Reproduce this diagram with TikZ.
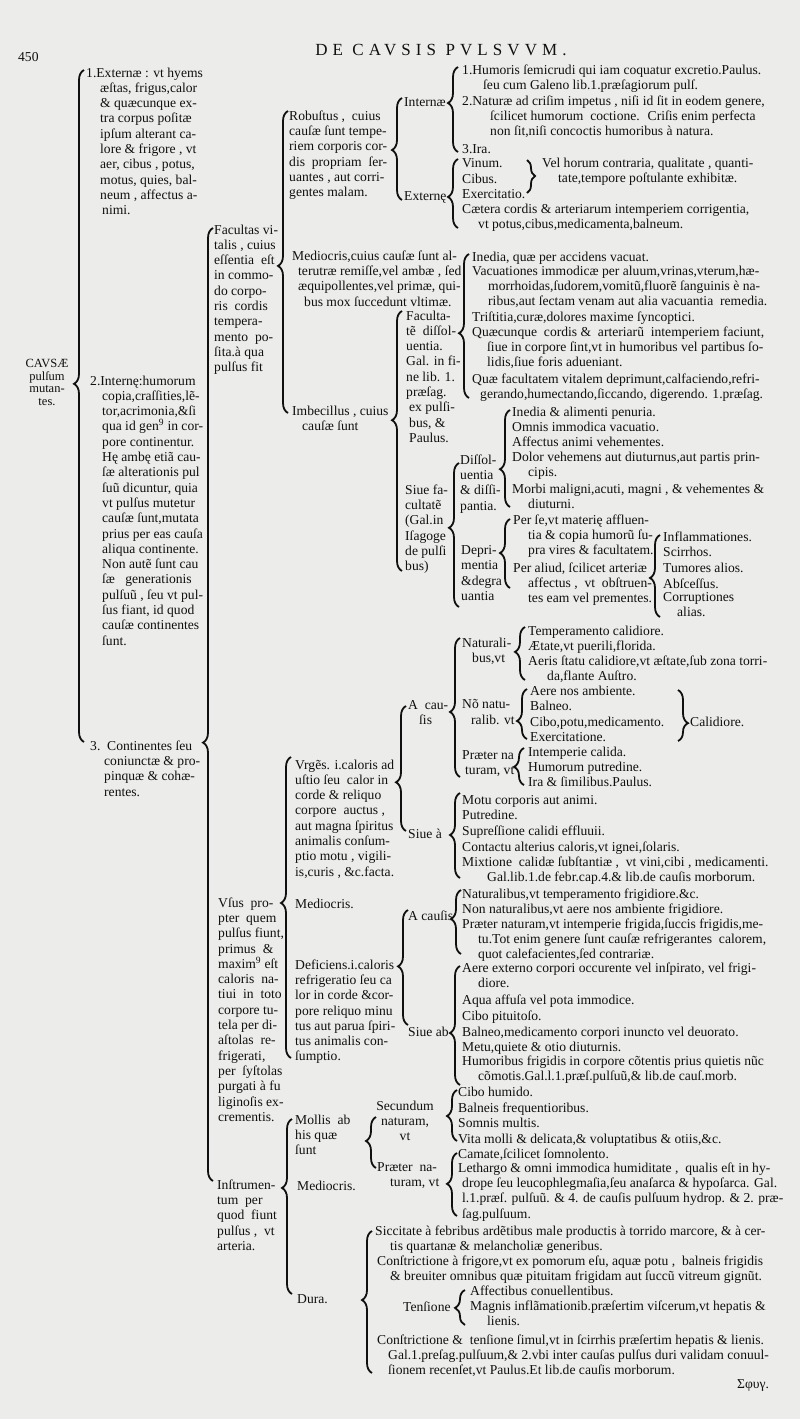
\documentclass[tikz,border=0pt]{standalone}
\usepackage{fontspec}
\setmainfont{Liberation Serif}
\newfontfamily\titlefont[LetterSpace=30]{Liberation Serif}
\usetikzlibrary{decorations.pathreplacing}
\definecolor{paper}{HTML}{ECECEA}
\definecolor{ink}{HTML}{101010}
\newcommand\ind[1]{\hspace*{#1pt}}

\begin{document}
\begin{tikzpicture}[x=1pt,y=-1pt,font=\fontsize{13.6}{15.3}\selectfont,text=ink,
  txt/.style={anchor=north west,inner sep=0pt,align=left,yshift=7.6pt,
    execute at begin node=\strut},
  brc/.style 2 args={draw=ink,line width=1.8pt,decorate,
    decoration={brace,amplitude=#1,aspect=#2}}]
  \useasboundingbox (0,0) rectangle (800,1419);
  \fill[paper] (0,0) rectangle (800,1419);

  \node[txt] (pg) at (18,58) {450};
  \node[inner sep=0pt,font=\titlefont\fontsize{17}{17}\selectfont] (ttl) at (441,50)
    {DE CAVSIS PVLSVVM.};

  \node[anchor=north,align=center,inner sep=0pt,yshift=6pt,
    execute at begin node=\strut,font=\fontsize{12.5}{12.7}\selectfont] (cau) at (47,365)
    {CAVSÆ\\pulſum\\mutan-\\tes.};

  \node[txt] (ext) at (86,75) {1.Externæ : vt hyems\\\ind{14}æſtas, frigus,calor\\\ind{14}\& quæcunque ex-\\\ind{14}tra corpus poſitæ\\\ind{14}ipſum alterant ca-\\\ind{14}lore \& frigore , vt\\\ind{14}aer, cibus , potus,\\\ind{14}motus, quies, bal-\\\ind{14}neum , affectus a-\\\ind{16}nimi.};
  \node[txt] (int) at (90,383) {2.Internę:humorum\\\ind{12}copia,craſſities,lẽ-\\\ind{12}tor,acrimonia,\&ſi\\\ind{12}qua id gen\textsuperscript{9} in cor-\\\ind{12}pore continentur.\\\ind{12}Hę ambę etiã cau-\\\ind{12}ſæ alterationis pul\\\ind{12}ſuũ dicuntur, quia\\\ind{12}vt pulſus mutetur\\\ind{12}cauſæ ſunt,mutata\\\ind{12}prius per eas cauſa\\\ind{12}aliqua continente.\\\ind{12}Non autẽ ſunt cau\\\ind{12}ſæ \ \ generationis\\\ind{12}pulſuũ , ſeu vt pul-\\\ind{12}ſus fiant, id quod\\\ind{12}cauſæ continentes\\\ind{12}ſunt.};
  \node[txt] (cont) at (90,748) {3.\ \ Continentes ſeu\\\ind{14}coniunctæ \& pro-\\\ind{14}pinquæ \& cohæ-\\\ind{14}rentes.};

  \node[txt] (fac) at (214,232) {Facultas vi-\\talis , cuius\\eſſentia \ eſt\\in commo-\\do corpo-\\ris \ cordis\\tempera-\\mento \ po-\\ſita.à qua\\pulſus fit};
  \node[txt] (usus) at (218,905) {Vſus \ pro-\\pter \ quem\\pulſus fiunt,\\primus \ \&\\maxim\textsuperscript{9} eſt\\caloris \ na-\\tiui \ in \ toto\\corpore tu-\\tela per di-\\aſtolas \ re-\\frigerati,\\per \ ſyſtolas\\purgati à fu\\liginoſis ex-\\crementis.};
  \node[txt] (instr) at (217,1187) {Inſtrumen-\\tum \ per\\quod \ fiunt\\pulſus , \ vt\\arteria.};

  \node[txt] (rob) at (289,118) {Robuſtus , \ cuius\\cauſæ ſunt tempe-\\riem corporis cor-\\dis \ propriam \ ſer-\\uantes , aut corri-\\gentes malam.};
  \node[txt] (med) at (292,258) {Mediocris,cuius cauſæ ſunt al-\\\ind{6}terutræ remiſſe,vel ambæ , ſed\\\ind{6}æquipollentes,vel primæ, qui-\\\ind{12}bus mox ſuccedunt vltimæ.};
  \node[txt] (imb) at (292,413) {Imbecillus , cuius\\\ind{10}cauſæ ſunt};

  \node[txt] (intr) at (404,103) {Internæ};
  \node[txt] (extr) at (404,197) {Externę};
  \node[txt] (hum) at (462,72) {1.Humoris ſemicrudi qui iam coquatur excretio.Paulus.\\\ind{21}ſeu cum Galeno lib.1.præſagiorum pulſ.};
  \node[txt] (nat) at (462,103) {2.Naturæ ad criſim impetus , niſi id ſit in eodem genere,\\\ind{28}ſcilicet humorum \ coctione. \ Criſis enim perfecta\\\ind{28}non ſit,niſi concoctis humoribus à natura.};
  \node[txt] (ira) at (462,150) {3.Ira.};
  \node[txt] (vin) at (462,164) {Vinum.};
  \node[txt] (cib) at (462,180) {Cibus.};
  \node[txt] (exe) at (462,195) {Exercitatio.};
  \node[txt] (cet) at (462,211) {Cætera cordis \& arteriarum intemperiem corrigentia,\\\ind{16}vt potus,cibus,medicamenta,balneum.};
  \node[txt] (vel) at (542,165) {Vel horum contraria, qualitate , quanti-\\\ind{16}tate,tempore poſtulante exhibitæ.};

  \node[txt] (ined) at (472,258) {Inedia, quæ per accidens vacuat.};
  \node[txt] (vac) at (472,273) {Vacuationes immodicæ per aluum,vrinas,vterum,hæ-\\\ind{16}morrhoidas,ſudorem,vomitũ,fluorẽ ſanguinis è na-\\\ind{16}ribus,aut ſectam venam aut alia vacuantia \ remedia.};
  \node[txt] (trist) at (472,318) {Triſtitia,curæ,dolores maxime ſyncoptici.};
  \node[txt] (quae) at (472,334) {Quæcunque \ cordis \& \ arteriarũ \ intemperiem faciunt,\\\ind{15}ſiue in corpore ſint,vt in humoribus vel partibus ſo-\\\ind{15}lidis,ſiue foris adueniant.};
  \node[txt] (quaef) at (472,381) {Quæ facultatem vitalem deprimunt,calfaciendo,refri-\\\ind{8}gerando,humectando,ſiccando, digerendo. 1.præſag.};

  \node[txt] (fdis) at (406,318) {Faculta-\\tẽ \ diſſol-\\uentia.\\Gal. in fi-\\ne lib. 1.\\præſag.\\\ind{3}ex pulſi-\\\ind{3}bus, \&\\\ind{3}Paulus.};
  \node[txt] (siuef) at (405,492) {Siue fa-\\cultatẽ\\(Gal.in\\Iſagoge\\de pulſi\\bus)};
  \node[txt] (diss) at (460,462) {Diſſol-\\uentia\\\& diſſi-\\pantia.};
  \node[txt] (depr) at (461,553) {Depri-\\mentia\\\&degra\\uantia};

  \node[txt] (inal) at (512,413) {Inedia \& alimenti penuria.};
  \node[txt] (omn) at (512,428) {Omnis immodica vacuatio.};
  \node[txt] (aff) at (512,443) {Affectus animi vehementes.};
  \node[txt] (dol) at (512,459) {Dolor vehemens aut diuturnus,aut partis prin-\\\ind{16}cipis.};
  \node[txt] (morb) at (512,491) {Morbi maligni,acuti, magni , \& vehementes \&\\\ind{16}diuturni.};
  \node[txt] (perse) at (513,522) {Per ſe,vt materię affluen-\\\ind{15}tia \& copia humorũ ſu-\\\ind{15}pra vires \& facultatem.};
  \node[txt] (peral) at (513,570) {Per aliud, ſcilicet arteriæ\\\ind{15}affectus , \ vt \ obſtruen-\\\ind{15}tes eam vel prementes.};
  \node[txt] (infl) at (663,538) {Inflammationes.};
  \node[txt] (scir) at (663,553) {Scirrhos.};
  \node[txt] (tum) at (663,569) {Tumores alios.};
  \node[txt] (absc) at (663,585) {Abſceſſus.};
  \node[txt] (corr) at (663,600) {Corruptiones\\\ind{14}alias.};

  \node[txt] (urg) at (295,767) {Vrgẽs. i.caloris ad\\uſtio ſeu \ calor in\\corde \& reliquo\\corpore \ auctus ,\\aut magna ſpiritus\\animalis conſum-\\ptio motu , vigili-\\is,curis , \&c.facta.};
  \node[txt] (medu) at (295,905) {Mediocris.};
  \node[txt] (def) at (295,967) {Deficiens.i.caloris\\refrigeratio ſeu ca\\lor in corde \&cor-\\pore reliquo minu\\tus aut parua ſpiri-\\tus animalis con-\\ſumptio.};

  \node[txt] (acau) at (408,708) {A \ cau-\\\ind{11}ſis};
  \node[txt] (siuea) at (408,835) {Siue à};
  \node[txt] (natb) at (462,645) {Naturali-\\\ind{10}bus,vt};
  \node[txt] (nonn) at (462,707) {Nõ natu-\\\ind{9}ralib. vt};
  \node[txt] (praet) at (462,758) {Præter na\\\ind{3}turam, vt};
  \node[txt] (tcal) at (528,632) {Temperamento calidiore.};
  \node[txt] (aet) at (528,647) {Ætate,vt puerili,florida.};
  \node[txt] (aer) at (528,663) {Aeris ſtatu calidiore,vt æſtate,ſub zona torri-\\\ind{19}da,flante Auſtro.};
  \node[txt] (amb) at (530,692) {Aere nos ambiente.};
  \node[txt] (baln) at (530,707) {Balneo.};
  \node[txt] (cibo) at (530,723) {Cibo,potu,medicamento.};
  \node[txt] (exer) at (530,738) {Exercitatione.};
  \node[txt] (calid) at (690,723) {Calidiore.};
  \node[txt] (intc) at (528,753) {Intemperie calida.};
  \node[txt] (hput) at (528,768) {Humorum putredine.};
  \node[txt] (irap) at (528,783) {Ira \& ſimilibus.Paulus.};
  \node[txt] (motu) at (462,801) {Motu corporis aut animi.};
  \node[txt] (putr) at (462,816) {Putredine.};
  \node[txt] (supr) at (462,832) {Supreſſione calidi effluuii.};
  \node[txt] (ctac) at (462,848) {Contactu alterius caloris,vt ignei,ſolaris.};
  \node[txt] (mixt) at (462,864) {Mixtione \ calidæ ſubſtantiæ , \ vt vini,cibi , medicamenti.\\\ind{25}Gal.lib.1.de febr.cap.4.\& lib.de cauſis morborum.};

  \node[txt] (acau2) at (408,917) {A cauſis};
  \node[txt] (natf) at (462,895) {Naturalibus,vt temperamento frigidiore.\&c.};
  \node[txt] (nonf) at (462,910) {Non naturalibus,vt aere nos ambiente frigidiore.};
  \node[txt] (praef) at (462,926) {Præter naturam,vt intemperie frigida,ſuccis frigidis,me-\\\ind{16}tu.Tot enim genere ſunt cauſæ refrigerantes \ calorem,\\\ind{16}quot calefacientes,ſed contrariæ.};
  \node[txt] (siueab) at (408,1033) {Siue ab};
  \node[txt] (aerex) at (462,970) {Aere externo corpori occurente vel inſpirato, vel frigi-\\\ind{16}diore.};
  \node[txt] (aqua) at (462,1001) {Aqua affuſa vel pota immodice.};
  \node[txt] (cpit) at (462,1017) {Cibo pituitoſo.};
  \node[txt] (bmed) at (462,1033) {Balneo,medicamento corpori inuncto vel deuorato.};
  \node[txt] (metu) at (462,1048) {Metu,quiete \& otio diuturnis.};
  \node[txt] (hfri) at (462,1063) {Humoribus frigidis in corpore cõtentis prius quietis nũc\\\ind{16}cõmotis.Gal.l.1.præſ.pulſuũ,\& lib.de cauſ.morb.};

  \node[txt] (moll) at (295,1122) {Mollis \ ab\\his quæ\\ſunt};
  \node[txt] (medi3) at (297,1187) {Mediocris.};
  \node[txt] (dura) at (297,1300) {Dura.};
  \node[txt,anchor=north,align=center] (secn) at (405,1108) {Secundum\\naturam,\\vt};
  \node[txt] (praen) at (377,1170) {Præter \ na-\\\ind{13}turam, vt};
  \node[txt] (chum) at (458,1093) {Cibo humido.};
  \node[txt] (bfre) at (458,1109) {Balneis frequentioribus.};
  \node[txt] (somn) at (458,1124) {Somnis multis.};
  \node[txt] (vita) at (458,1140) {Vita molli \& delicata,\& voluptatibus \& otiis,\&c.};
  \node[txt] (cama) at (458,1155) {Camate,ſcilicet ſomnolento.};
  \node[txt] (leth) at (458,1170) {Lethargo \& omni immodica humiditate , \ qualis eſt in hy-\\\ind{4}drope ſeu leucophlegmaſia,ſeu anaſarca \& hypoſarca. Gal.\\\ind{4}l.1.præſ. pulſuũ. \& 4. de cauſis pulſuum hydrop. \& 2. præ-\\\ind{4}ſag.pulſuum.};
  \node[txt] (sicc) at (375,1233) {Siccitate à febribus ardẽtibus male productis à torrido marcore, \& à cer-\\\ind{15}tis quartanæ \& melancholiæ generibus.};
  \node[txt] (cfri) at (377,1263) {Conſtrictione à frigore,vt ex pomorum eſu, aquæ potu , \ balneis frigidis\\\ind{13}\& breuiter omnibus quæ pituitam frigidam aut ſuccũ vitreum gignũt.};
  \node[txt] (tens) at (403,1308) {Tenſione};
  \node[txt] (afc) at (470,1292) {Affectibus conuellentibus.};
  \node[txt] (magn) at (470,1308) {Magnis inflãmationib.præſertim viſcerum,vt hepatis \&\\\ind{17}lienis.};
  \node[txt] (ctens) at (377,1342) {Conſtrictione \& \ tenſione ſimul,vt in ſcirrhis præſertim hepatis \& lienis.\\\ind{11}Gal.1.preſag.pulſuum,\& 2.vbi inter cauſas pulſus duri validam conuul-\\\ind{11}ſionem recenſet,vt Paulus.Et lib.de cauſis morborum.};
  \node[txt] (catch) at (737,1385) {Σφυγ.};

  \foreach \p/\x/\t/\b/\a in {cau/84/70/742/.533, cont/213/228/1181/.46,
      fac/288/111/413/.487, rob/402/98/200/.49, intr/458/67/152/.576,
      extr/458/159/228/.45, fdis/469/254/398/.45, imb/402/311/571/.58,
      siuef/459/463/607/.55, diss/510/410/507/.39, depr/510/519/588/.507,
      ppa/660/535/617/.476, usus/291/757/1058/.515, urg/406/706/831/.39,
      acau/460/638/777/.468, natb/525/627/680/.53, nonn/527/689/739/.36,
      praet/524/748/785/.49, siuea/460/793/878/.506, def/408/910/1025/.51,
      acau2/461/890/954/.547, siueab/460/966/1085/.437, instr/292/1119/1294/.606,
      moll/376/1117/1168/.53, secn/457/1090/1141/.49, praen/457/1153/1216/.51,
      dura/372/1231/1373/.514, tens/465/1290/1325/.49} {
    \coordinate (\p-t) at (\x,\t);
    \coordinate (\p-b) at (\x,\b);
    \draw[brc={10pt}{\a}] (\p-b) -- (\p-t);
  }

  \coordinate (vel-t) at (527,160);
  \coordinate (vel-b) at (527,193);
  \draw[brc={8pt}{.485}] (vel-t) -- (vel-b);
  \coordinate (calid-t) at (678,690);
  \coordinate (calid-b) at (678,741);
  \draw[brc={10pt}{.65}] (calid-t) -- (calid-b);
\end{tikzpicture}
\end{document}
